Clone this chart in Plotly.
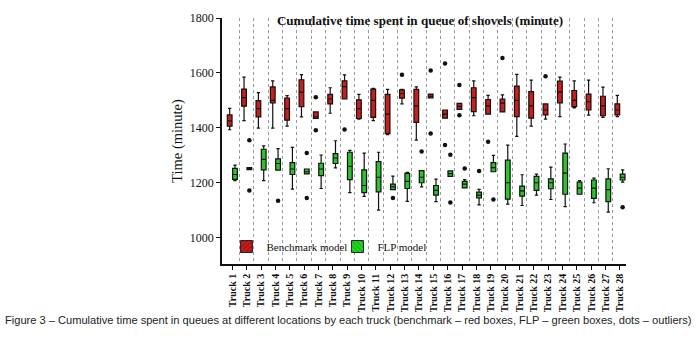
import plotly.graph_objects as go

trucks = list(range(1, 29))
truck_labels = [f"Truck {n}" for n in trucks]

# Benchmark model (red) box statistics
bm_low = [1393, 1426, 1399, 1399, 1406, 1440, 1434, 1453, 1505, 1432, 1426, 1375, 1487, 1355,
          1509, 1435, 1467, 1444, 1450, 1458, 1369, 1406, 1432, 1441, 1473, 1446, 1438, 1441]
bm_q1 = [1406, 1479, 1440, 1491, 1428, 1477, 1434, 1487, 1505, 1434, 1438, 1379, 1508, 1420,
         1509, 1435, 1467, 1459, 1450, 1458, 1441, 1435, 1447, 1491, 1477, 1465, 1444, 1447]
bm_med = [1425, 1510, 1470, 1500, 1470, 1530, 1440, 1505, 1550, 1470, 1500, 1450, 1525, 1480,
          1515, 1450, 1478, 1510, 1480, 1490, 1500, 1480, 1465, 1530, 1500, 1495, 1480, 1465]
bm_q3 = [1447, 1541, 1499, 1549, 1508, 1575, 1458, 1522, 1571, 1502, 1541, 1522, 1538, 1540,
         1523, 1465, 1489, 1546, 1503, 1505, 1552, 1532, 1487, 1570, 1536, 1523, 1515, 1487]
bm_high = [1471, 1585, 1528, 1571, 1517, 1594, 1458, 1546, 1593, 1522, 1544, 1540, 1540, 1549,
           1523, 1465, 1489, 1571, 1518, 1520, 1595, 1574, 1487, 1585, 1571, 1574, 1548, 1518]
bm_out_truck = [7, 7, 9, 13, 15, 15, 16, 16, 17, 17, 19, 20, 23]
bm_out_value = [1511, 1391, 1394, 1593, 1609, 1379, 1634, 1337, 1556, 1446, 1349, 1654, 1588]

# FLP model (green) box statistics
flp_low = [1208, 1248, 1208, 1246, 1177, 1232, 1179, 1254, 1164, 1150, 1100, 1175, 1132, 1185,
           1131, 1223, 1181, 1119, 1240, 1122, 1117, 1155, 1139, 1113, 1158, 1127, 1093, 1202]
flp_q1 = [1212, 1248, 1247, 1246, 1230, 1232, 1226, 1270, 1211, 1164, 1167, 1175, 1179, 1200,
          1155, 1223, 1181, 1145, 1240, 1140, 1151, 1172, 1178, 1158, 1158, 1143, 1131, 1210]
flp_med = [1230, 1252, 1285, 1270, 1250, 1240, 1250, 1290, 1260, 1190, 1220, 1185, 1205, 1220,
           1172, 1233, 1195, 1155, 1255, 1200, 1170, 1200, 1200, 1235, 1180, 1180, 1175, 1220]
flp_q3 = [1252, 1255, 1322, 1287, 1273, 1250, 1271, 1306, 1311, 1247, 1277, 1195, 1234, 1244,
          1190, 1243, 1205, 1166, 1273, 1282, 1188, 1223, 1214, 1308, 1202, 1210, 1214, 1231]
flp_high = [1264, 1255, 1334, 1324, 1329, 1250, 1301, 1353, 1318, 1308, 1311, 1224, 1238, 1244,
            1213, 1243, 1211, 1176, 1300, 1337, 1229, 1231, 1257, 1341, 1208, 1217, 1251, 1247]
flp_out_truck = [2, 2, 4, 6, 6, 12, 14, 16, 16, 17, 18, 19, 28]
flp_out_value = [1355, 1172, 1134, 1308, 1144, 1144, 1314, 1302, 1128, 1252, 1243, 1139, 1111]

y_ticks = [1000, 1200, 1400, 1600, 1800]

BOXGAP = 0.26
BOXGROUPGAP = 0.11
RED = "#c81e1e"
GREEN = "#2cc42c"
SERIF = "Liberation Serif"

half = (1 - BOXGAP) / 4  # centre offset of each box within its group

fig = go.Figure()

# legend swatches (hatched, like the original)
fig.add_trace(go.Bar(x=[None], y=[None], name="Benchmark model",
                     marker=dict(color=RED, line=dict(color="#222", width=1),
                                 pattern=dict(shape="/", fgcolor="#6a0000", size=4, solidity=0.35))))
fig.add_trace(go.Bar(x=[None], y=[None], name="FLP model",
                     marker=dict(color="#22dd22", line=dict(color="#222", width=1),
                                 pattern=dict(shape="\\", fgcolor="#0a6a0a", size=4, solidity=0.35))))

fig.add_trace(go.Box(x=trucks, q1=bm_q1, median=bm_med, q3=bm_q3,
                     lowerfence=bm_low, upperfence=bm_high,
                     fillcolor=RED, line=dict(color="#111", width=1.2),
                     whiskerwidth=0.7, showlegend=False, name="Benchmark model",
                     offsetgroup="bm"))
fig.add_trace(go.Box(x=trucks, q1=flp_q1, median=flp_med, q3=flp_q3,
                     lowerfence=flp_low, upperfence=flp_high,
                     fillcolor=GREEN, line=dict(color="#111", width=1.2),
                     whiskerwidth=0.7, showlegend=False, name="FLP model",
                     offsetgroup="flp"))

fig.add_trace(go.Scatter(x=[t - half for t in bm_out_truck], y=bm_out_value, mode="markers",
                         marker=dict(color="#111", size=4.5), showlegend=False,
                         hoverinfo="y"))
fig.add_trace(go.Scatter(x=[t + half for t in flp_out_truck], y=flp_out_value, mode="markers",
                         marker=dict(color="#111", size=4.5), showlegend=False,
                         hoverinfo="y"))

fig.update_layout(
    width=696, height=351,
    margin=dict(l=222, r=70, t=11, b=87),
    paper_bgcolor="white", plot_bgcolor="white",
    boxmode="group", boxgap=BOXGAP, boxgroupgap=BOXGROUPGAP,
    font=dict(family=SERIF, color="#111"),
    title=dict(text="Cumulative time spent in queue of shovels (minute)",
               font=dict(family=SERIF, size=13.1, weight="bold", color="#111"),
               xref="paper", x=(420 - 222) / 404, xanchor="center",
               y=1 - 20 / 351, yanchor="middle"),
    legend=dict(orientation="h", x=0.011, xanchor="left", y=0.071, yanchor="middle",
                bgcolor="rgba(0,0,0,0)", font=dict(family=SERIF, size=11, color="#111"),
                itemwidth=30, tracegroupgap=0, entrywidth=66),
    xaxis=dict(range=[0.28, 28.42], tickmode="array", tickvals=trucks, ticktext=truck_labels,
               tickangle=-90, tickfont=dict(family=SERIF, size=10, weight="bold", color="#111"),
               ticks="outside", ticklen=4, tickwidth=1.3, tickcolor="#111",
               showline=True, linecolor="#111", linewidth=1.5, showgrid=False, zeroline=False,
               minor=dict(tickmode="array", tickvals=[t + 0.5 for t in trucks[:-1]],
                          showgrid=True, griddash="dot", gridcolor="#9a9a9a", gridwidth=1,
                          ticks="")),
    yaxis=dict(range=[904, 1800], tickmode="array", tickvals=y_ticks,
               tickfont=dict(family=SERIF, size=12, color="#111"),
               ticks="outside", ticklen=4, tickwidth=1.3, tickcolor="#111",
               showline=True, linecolor="#111", linewidth=1.5, showgrid=False, zeroline=False,
               title=dict(text="Time (minute)", font=dict(family=SERIF, size=14.5, color="#111"),
                          standoff=4)),
)

fig.add_annotation(
    text="Figure 3 – Cumulative time spent in queues at different locations by each truck "
         "(benchmark – red boxes, FLP – green boxes, dots – outliers)",
    xref="paper", yref="paper", x=(3 - 222) / 404, y=(264 - 322) / 253,
    xanchor="left", yanchor="middle", showarrow=False,
    font=dict(family="Liberation Sans", size=11.1, color="#222"))

fig.write_html("out.html", config={"displayModeBar": False},
               post_script="document.body.style.margin='0';")
